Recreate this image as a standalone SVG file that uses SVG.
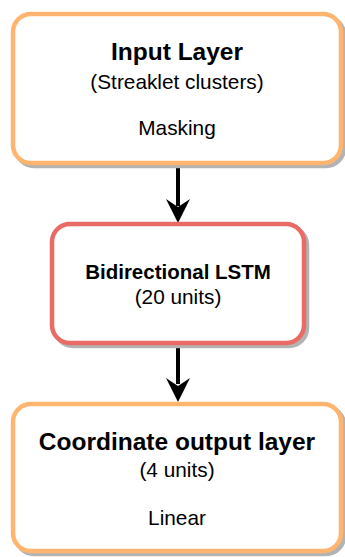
<svg xmlns="http://www.w3.org/2000/svg" width="345" height="557" viewBox="0 0 345 557">
<defs>
<style>
.box{fill:#ffffff;stroke-width:4.5}
.sh{fill:#b3b3b3;stroke:#b3b3b3;stroke-width:4.5}
.t{font-family:"Liberation Sans",Arial,sans-serif;fill:#000;text-anchor:middle}
.b{font-weight:bold}
.conn{stroke:#000;stroke-width:4;fill:none}
.head{fill:#000}
</style>
</defs>
<rect width="345" height="557" fill="#ffffff"/>
<g id="connectors">
<line class="conn" x1="178" y1="166" x2="178" y2="206"/>
<path class="head" d="M166,199 L178,223 L190,199 L178,207 Z"/>
<line class="conn" x1="178" y1="346" x2="178" y2="384"/>
<path class="head" d="M166,378 L178,402 L190,378 L178,386 Z"/>
</g>
<g id="input-layer">
<rect class="sh" x="16" y="17" width="328" height="149" rx="18"/>
<rect class="box" x="13" y="14" width="328" height="149" rx="18" stroke="#FFB570"/>
<text class="t b" x="177" y="60" font-size="24.5">Input Layer</text>
<text class="t" x="177" y="89" font-size="20.8">(Streaklet clusters)</text>
<text class="t" x="177" y="135" font-size="20.8">Masking</text>
</g>
<g id="lstm">
<rect class="sh" x="55" y="227" width="252" height="119" rx="18"/>
<rect class="box" x="52" y="224" width="252" height="119" rx="18" stroke="#EA6B66"/>
<text class="t b" x="178" y="279" font-size="20.5">Bidirectional LSTM</text>
<text class="t" x="178" y="304" font-size="20.8">(20 units)</text>
</g>
<g id="output-layer">
<rect class="sh" x="16" y="407" width="328" height="147" rx="18"/>
<rect class="box" x="13" y="404" width="328" height="147" rx="18" stroke="#FFB570"/>
<text class="t b" x="177" y="450" font-size="24.5">Coordinate output layer</text>
<text class="t" x="177" y="477" font-size="20.8">(4 units)</text>
<text class="t" x="177" y="525" font-size="20.8">Linear</text>
</g>
</svg>
